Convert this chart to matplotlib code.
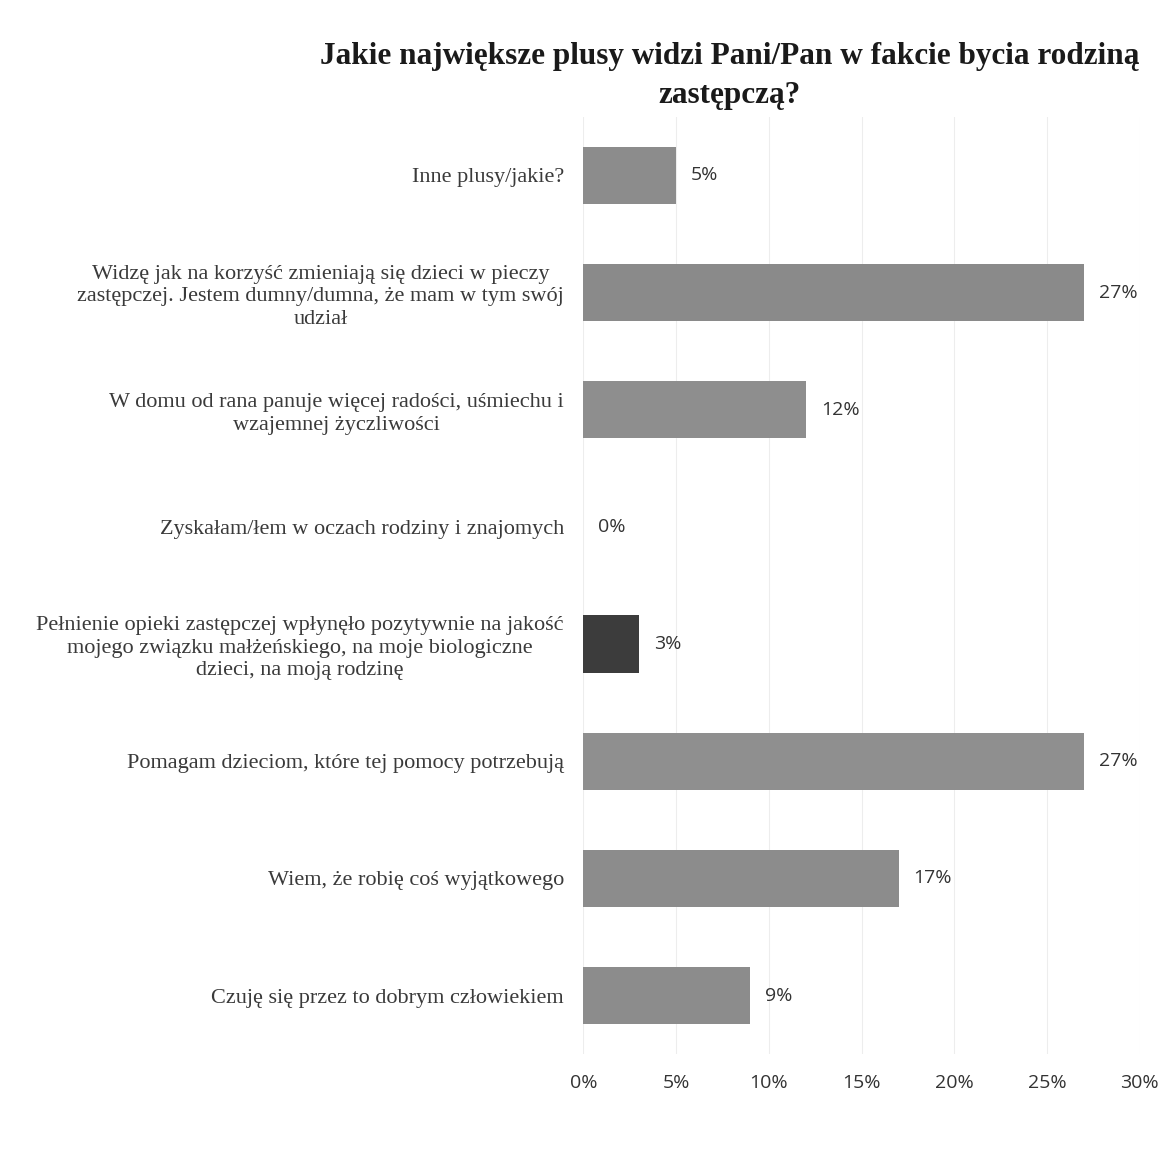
import matplotlib.pyplot as plt
from matplotlib.ticker import FuncFormatter

# Dane
kategorie = [
    "Inne plusy/jakie?",
    "Widzę jak na korzyść zmieniają się dzieci w pieczy\nzastępczej. Jestem dumny/dumna, że mam w tym swój\nudział",
    "W domu od rana panuje więcej radości, uśmiechu i\nwzajemnej życzliwości",
    "Zyskałam/łem w oczach rodziny i znajomych",
    "Pełnienie opieki zastępczej wpłynęło pozytywnie na jakość\nmojego związku małżeńskiego, na moje biologiczne\ndzieci, na moją rodzinę",
    "Pomagam dzieciom, które tej pomocy potrzebują",
    "Wiem, że robię coś wyjątkowego",
    "Czuję się przez to dobrym człowiekiem",
]
wartosci = [5, 27, 12, 0, 3, 27, 17, 9]
etykiety = ["5%", "27%", "12%", "0%", "3%", "27%", "17%", "9%"]
kolory = ["#8c8c8c", "#8a8a8a", "#8e8e8e", "#8c8c8c", "#3c3c3c", "#8f8f8f", "#8c8c8c", "#8c8c8c"]
os_x = [0, 5, 10, 15, 20, 25, 30]

fig = plt.figure(figsize=(11.69, 11.56), dpi=100)
ax = fig.add_axes([0.499, 0.088, 0.476, 0.811])

y = list(range(len(kategorie)))
ax.barh(y, wartosci, height=0.49, color=kolory, zorder=2)

for yi, v, t in zip(y, wartosci, etykiety):
    ax.text(v + 0.8, yi, t, va="center", ha="left", fontsize=14,
            family="Open Sans", color="#333333")

ax.set_ylim(len(kategorie) - 0.5, -0.5)
ax.set_xlim(0, 30)
ax.set_xticks(os_x)
ax.xaxis.set_major_formatter(FuncFormatter(lambda v, p: f"{v:.0f}%"))
ax.set_yticks(y)
ax.set_yticklabels(kategorie, family="Liberation Serif", fontsize=16,
                   color="#3a3a3a", multialignment="center", linespacing=1.25)
ax.tick_params(axis="y", length=0, pad=14)
ax.tick_params(axis="x", length=0, pad=14, labelsize=14, labelcolor="#333333")
for lbl in ax.get_xticklabels():
    lbl.set_family("Open Sans")

ax.grid(axis="x", color="#ededed", linewidth=0.8, zorder=0)
for s in ax.spines.values():
    s.set_visible(False)

fig.text(0.624, 0.934, "Jakie największe plusy widzi Pani/Pan w fakcie bycia rodziną\nzastępczą?",
         ha="center", va="center", family="Liberation Serif", fontweight="bold",
         fontsize=22.5, color="#1a1a1a", linespacing=1.45)

fig.savefig("out.png", dpi=100, facecolor="white")
